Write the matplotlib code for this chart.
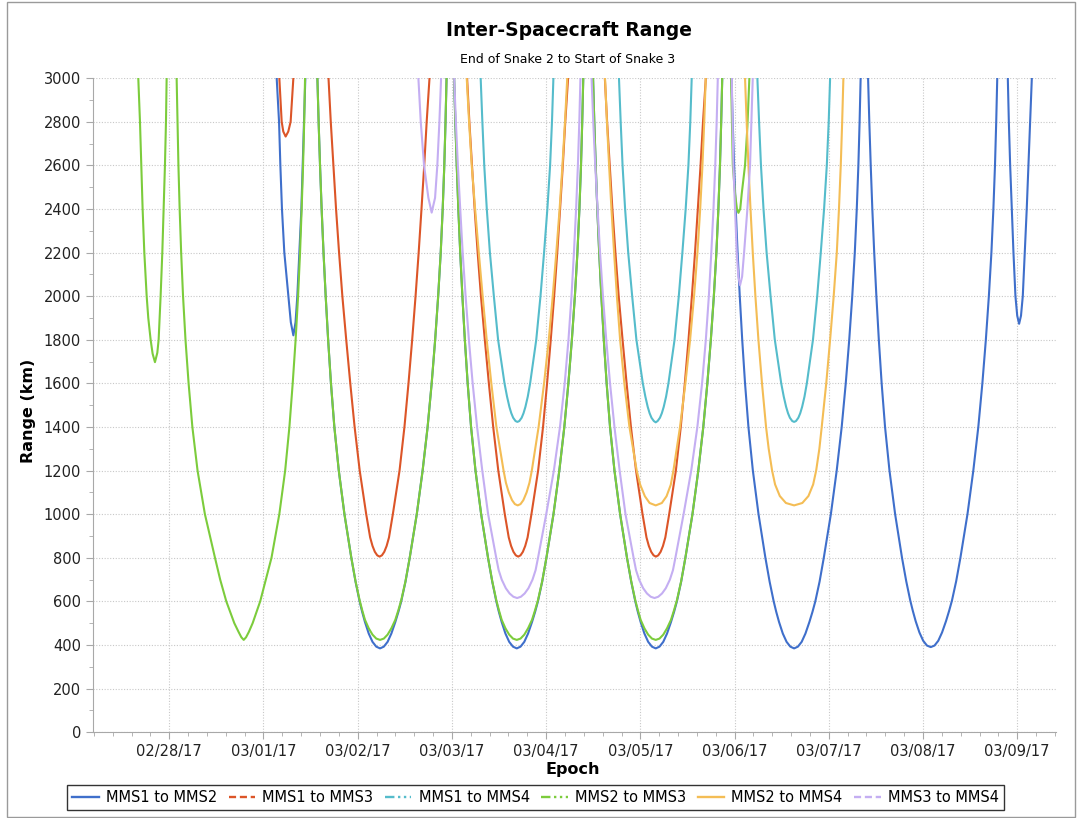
import numpy as np
import matplotlib
matplotlib.use('Agg')
import matplotlib.pyplot as plt
import matplotlib.dates as mdates
from matplotlib.ticker import MultipleLocator
from matplotlib.lines import Line2D
from matplotlib.patches import Rectangle
from datetime import datetime

# epoch in days since 02/28/17 00:00, range in km (values above 3000 run off the chart)
mms1_mms2_days = [0.90,
    1.140, 1.165, 1.179, 1.196, 1.221, 1.264, 1.290, 1.317, 1.340, 1.359, 1.380, 1.402, 1.416, 1.430, 1.444,
    1.500,
    1.572, 1.585, 1.600, 1.617, 1.637, 1.660, 1.686, 1.716, 1.752, 1.799, 1.859, 1.932, 1.977, 2.020, 2.047,
    2.077, 2.117, 2.157, 2.197, 2.237, 2.277, 2.317, 2.357, 2.399, 2.432, 2.462, 2.507, 2.552, 2.627, 2.689,
    2.742, 2.785, 2.822, 2.854, 2.881, 2.902, 2.919, 2.932, 2.943,
    2.980,
    3.023, 3.036, 3.051, 3.068, 3.088, 3.111, 3.137, 3.167, 3.203, 3.250, 3.310, 3.383, 3.428, 3.471, 3.498,
    3.528, 3.568, 3.608, 3.648, 3.688, 3.728, 3.768, 3.808, 3.850, 3.883, 3.913, 3.958, 4.003, 4.078, 4.140,
    4.193, 4.236, 4.273, 4.305, 4.332, 4.353, 4.370, 4.383, 4.394,
    4.440,
    4.498, 4.511, 4.526, 4.543, 4.563, 4.586, 4.612, 4.642, 4.678, 4.725, 4.785, 4.858, 4.903, 4.946, 4.973,
    5.003, 5.043, 5.083, 5.123, 5.163, 5.203, 5.243, 5.283, 5.325, 5.358, 5.388, 5.433, 5.478, 5.553, 5.615,
    5.668, 5.711, 5.748, 5.780, 5.807, 5.828, 5.845, 5.858, 5.869,
    5.920,
    5.967, 5.980, 5.995, 6.012, 6.032, 6.055, 6.081, 6.111, 6.147, 6.194, 6.254, 6.327, 6.372, 6.415, 6.442,
    6.472, 6.512, 6.552, 6.592, 6.632, 6.672, 6.712, 6.752, 6.794, 6.827, 6.857, 6.902, 6.947, 7.022, 7.084,
    7.137, 7.180, 7.217, 7.249, 7.276, 7.297, 7.314, 7.327, 7.338,
    7.380,
    7.417, 7.430, 7.445, 7.462, 7.482, 7.505, 7.531, 7.561, 7.597, 7.644, 7.704, 7.777, 7.822, 7.865, 7.892,
    7.922, 7.962, 8.002, 8.042, 8.082, 8.122, 8.162, 8.202, 8.244, 8.277, 8.307, 8.352, 8.397, 8.472, 8.534,
    8.587, 8.630, 8.667, 8.699, 8.726, 8.747, 8.764, 8.777, 8.788,
    8.850,
    8.900, 8.911, 8.925, 8.942, 8.960, 8.981, 9.000, 9.020, 9.040, 9.059, 9.080, 9.101, 9.119, 9.137, 9.155,
    9.250, 9.500]
mms1_mms2_km = [3500,
    3000, 2800, 2600, 2400, 2200, 2000, 1880, 1820, 1880, 2000, 2200, 2400, 2600, 2800, 3000,
    3500,
    3000, 2800, 2600, 2400, 2200, 2000, 1800, 1600, 1400, 1200, 1000, 800, 690, 600, 552,
    505, 452, 414, 392, 384, 392, 414, 452, 505, 552, 600, 690, 800, 1000, 1200,
    1400, 1600, 1800, 2000, 2200, 2400, 2600, 2800, 3000,
    3500,
    3000, 2800, 2600, 2400, 2200, 2000, 1800, 1600, 1400, 1200, 1000, 800, 690, 600, 552,
    505, 452, 414, 392, 384, 392, 414, 452, 505, 552, 600, 690, 800, 1000, 1200,
    1400, 1600, 1800, 2000, 2200, 2400, 2600, 2800, 3000,
    3500,
    3000, 2800, 2600, 2400, 2200, 2000, 1800, 1600, 1400, 1200, 1000, 800, 690, 600, 552,
    505, 452, 414, 392, 384, 392, 414, 452, 505, 552, 600, 690, 800, 1000, 1200,
    1400, 1600, 1800, 2000, 2200, 2400, 2600, 2800, 3000,
    3500,
    3000, 2800, 2600, 2400, 2200, 2000, 1800, 1600, 1400, 1200, 1000, 800, 690, 600, 552,
    505, 452, 414, 392, 384, 392, 414, 452, 505, 552, 600, 690, 800, 1000, 1200,
    1400, 1600, 1800, 2000, 2200, 2400, 2600, 2800, 3000,
    3500,
    3000, 2800, 2600, 2400, 2200, 2000, 1800, 1600, 1400, 1200, 1000, 800, 692, 603, 556,
    509, 457, 419, 397, 390, 397, 419, 457, 509, 556, 603, 692, 800, 1000, 1200,
    1400, 1600, 1800, 2000, 2200, 2400, 2600, 2800, 3000,
    3500,
    3000, 2800, 2600, 2400, 2200, 2000, 1910, 1873, 1910, 2000, 2200, 2400, 2600, 2800, 3000,
    3500, 3800]

mms1_mms3_days = [1.120,
    1.168, 1.193, 1.210, 1.235, 1.263, 1.288, 1.317,
    1.500,
    1.690, 1.714, 1.742, 1.770, 1.802, 1.837, 1.878, 1.921, 1.967, 2.021, 2.090, 2.132, 2.157, 2.182, 2.207,
    2.232, 2.257, 2.282, 2.307, 2.332, 2.373, 2.444, 2.496, 2.539, 2.578, 2.614, 2.647, 2.677, 2.706, 2.732,
    2.762,
    2.970,
    3.161, 3.185, 3.213, 3.241, 3.273, 3.308, 3.349, 3.392, 3.438, 3.492, 3.561, 3.603, 3.628, 3.653, 3.678,
    3.703, 3.728, 3.753, 3.778, 3.803, 3.844, 3.915, 3.967, 4.010, 4.049, 4.085, 4.118, 4.148, 4.177, 4.203,
    4.233,
    4.430,
    4.623, 4.647, 4.675, 4.703, 4.735, 4.770, 4.811, 4.854, 4.900, 4.954, 5.023, 5.065, 5.090, 5.115, 5.140,
    5.165, 5.190, 5.215, 5.240, 5.265, 5.306, 5.377, 5.429, 5.472, 5.511, 5.547, 5.580, 5.610, 5.639, 5.665,
    5.695,
    5.850]
mms1_mms3_km = [3500,
    3000, 2800, 2755, 2732, 2755, 2800, 3000,
    3500,
    3000, 2800, 2600, 2400, 2200, 2000, 1800, 1600, 1400, 1200, 1000, 893, 854, 827, 811,
    805, 811, 827, 854, 893, 1000, 1200, 1400, 1600, 1800, 2000, 2200, 2400, 2600, 2800,
    3000,
    3500,
    3000, 2800, 2600, 2400, 2200, 2000, 1800, 1600, 1400, 1200, 1000, 893, 854, 827, 811,
    805, 811, 827, 854, 893, 1000, 1200, 1400, 1600, 1800, 2000, 2200, 2400, 2600, 2800,
    3000,
    3500,
    3000, 2800, 2600, 2400, 2200, 2000, 1800, 1600, 1400, 1200, 1000, 893, 854, 827, 811,
    805, 811, 827, 854, 893, 1000, 1200, 1400, 1600, 1800, 2000, 2200, 2400, 2600, 2800,
    3000,
    3600]

mms1_mms4_days = [3.250,
    3.305, 3.323, 3.343, 3.370, 3.403, 3.445, 3.490, 3.558, 3.585, 3.610, 3.630, 3.650, 3.675, 3.695,
    3.715, 3.740, 3.760, 3.780, 3.805, 3.830, 3.895, 3.940, 3.978, 4.013, 4.042, 4.062, 4.077,
    4.420,
    4.773, 4.791, 4.811, 4.838, 4.871, 4.913, 4.958, 5.026, 5.053, 5.078, 5.098, 5.118, 5.143, 5.163,
    5.183, 5.208, 5.228, 5.248, 5.273, 5.298, 5.363, 5.408, 5.446, 5.481, 5.510, 5.530, 5.545,
    5.900,
    6.242, 6.260, 6.280, 6.307, 6.340, 6.382, 6.427, 6.495, 6.522, 6.547, 6.567, 6.587, 6.612, 6.632,
    6.652, 6.677, 6.697, 6.717, 6.742, 6.767, 6.832, 6.877, 6.915, 6.950, 6.979, 6.999, 7.014,
    7.100]
mms1_mms4_km = [3500,
    3000, 2800, 2600, 2400, 2200, 2000, 1800, 1600, 1539, 1492, 1463, 1442, 1427, 1423,
    1427, 1442, 1463, 1492, 1539, 1600, 1800, 2000, 2200, 2400, 2600, 2800, 3000,
    3500,
    3000, 2800, 2600, 2400, 2200, 2000, 1800, 1600, 1539, 1492, 1463, 1442, 1427, 1421,
    1427, 1442, 1463, 1492, 1539, 1600, 1800, 2000, 2200, 2400, 2600, 2800, 3000,
    3500,
    3000, 2800, 2600, 2400, 2200, 2000, 1800, 1600, 1539, 1492, 1463, 1442, 1427, 1423,
    1427, 1442, 1463, 1492, 1539, 1600, 1800, 2000, 2200, 2400, 2600, 2800, 3000,
    3500]

mms2_mms3_days = [-0.400,
    -0.329, -0.311, -0.297, -0.283, -0.265, -0.240, -0.223, -0.198, -0.177, -0.152, -0.127, -0.113, -0.092,
    -0.074, -0.060, -0.046, -0.035, -0.028,
    0.025,
    0.078, 0.087, 0.097, 0.110, 0.126, 0.146, 0.172, 0.205, 0.245, 0.300, 0.378, 0.485, 0.540, 0.605, 0.690,
    0.735, 0.765, 0.790, 0.815, 0.845, 0.885, 0.965, 1.025, 1.085, 1.168, 1.230, 1.275, 1.310, 1.341, 1.367,
    1.388, 1.405, 1.420, 1.432, 1.441,
    1.500,
    1.572, 1.585, 1.600, 1.617, 1.637, 1.660, 1.686, 1.716, 1.752, 1.799, 1.859, 1.932, 1.977, 2.020, 2.047,
    2.077, 2.117, 2.157, 2.197, 2.237, 2.277, 2.317, 2.357, 2.399, 2.432, 2.462, 2.507, 2.552, 2.627, 2.689,
    2.742, 2.785, 2.822, 2.854, 2.881, 2.902, 2.919, 2.932, 2.943,
    2.980,
    3.023, 3.036, 3.051, 3.068, 3.088, 3.111, 3.137, 3.167, 3.203, 3.250, 3.310, 3.383, 3.428, 3.471, 3.498,
    3.528, 3.568, 3.608, 3.648, 3.688, 3.728, 3.768, 3.808, 3.850, 3.883, 3.913, 3.958, 4.003, 4.078, 4.140,
    4.193, 4.236, 4.273, 4.305, 4.332, 4.353, 4.370, 4.383, 4.394,
    4.440,
    4.498, 4.511, 4.526, 4.543, 4.563, 4.586, 4.612, 4.642, 4.678, 4.725, 4.785, 4.858, 4.903, 4.946, 4.973,
    5.003, 5.043, 5.083, 5.123, 5.163, 5.203, 5.243, 5.283, 5.325, 5.358, 5.388, 5.433, 5.478, 5.553, 5.615,
    5.668, 5.711, 5.748, 5.780, 5.807, 5.828, 5.845, 5.858, 5.869,
    5.915,
    5.963, 5.981, 6.005, 6.025, 6.041, 6.060, 6.076, 6.111, 6.136, 6.157,
    6.300]
mms2_mms3_km = [3500,
    3000, 2800, 2600, 2400, 2200, 2000, 1900, 1800, 1736, 1697, 1740, 1800, 2000,
    2200, 2400, 2600, 2800, 3000,
    3500,
    3000, 2800, 2600, 2400, 2200, 2000, 1800, 1600, 1400, 1200, 1000, 800, 700, 600, 500,
    460, 435, 423, 435, 460, 500, 600, 700, 800, 1000, 1200, 1400, 1600, 1800, 2000,
    2200, 2400, 2600, 2800, 3000,
    3500,
    3000, 2800, 2600, 2400, 2200, 2000, 1800, 1600, 1400, 1200, 1000, 800, 692, 605, 560,
    515, 476, 447, 429, 423, 429, 447, 476, 515, 560, 605, 692, 800, 1000, 1200,
    1400, 1600, 1800, 2000, 2200, 2400, 2600, 2800, 3000,
    3500,
    3000, 2800, 2600, 2400, 2200, 2000, 1800, 1600, 1400, 1200, 1000, 800, 692, 605, 560,
    515, 476, 447, 429, 423, 429, 447, 476, 515, 560, 605, 692, 800, 1000, 1200,
    1400, 1600, 1800, 2000, 2200, 2400, 2600, 2800, 3000,
    3500,
    3000, 2800, 2600, 2400, 2200, 2000, 1800, 1600, 1400, 1200, 1000, 800, 692, 605, 560,
    515, 476, 447, 429, 423, 429, 447, 476, 515, 560, 605, 692, 800, 1000, 1200,
    1400, 1600, 1800, 2000, 2200, 2400, 2600, 2800, 3000,
    3500,
    3000, 2600, 2470, 2400, 2382, 2400, 2470, 2600, 2777, 3000,
    3600]

mms2_mms4_days = [3.100,
    3.157, 3.182, 3.210, 3.246, 3.285, 3.326, 3.369, 3.418, 3.472, 3.548, 3.573, 3.603, 3.638, 3.668, 3.698,
    3.728, 3.758, 3.793, 3.823, 3.848, 3.920, 3.978, 4.028, 4.070, 4.108, 4.143, 4.173, 4.200, 4.224,
    4.420,
    4.625, 4.645, 4.668, 4.693, 4.721, 4.751, 4.785, 4.830, 4.884, 4.961, 4.998, 5.048, 5.098, 5.163,
    5.228, 5.278, 5.323, 5.351, 5.421, 5.478, 5.528, 5.570, 5.606, 5.635, 5.659, 5.678, 5.694,
    5.900,
    6.111, 6.128, 6.147, 6.169, 6.193, 6.221, 6.253, 6.291, 6.334, 6.362, 6.398, 6.430, 6.480, 6.545, 6.632,
    6.719, 6.784, 6.834, 6.866, 6.900, 6.925, 6.973, 7.014, 7.052, 7.085, 7.108, 7.127, 7.142, 7.155,
    7.250]
mms2_mms4_km = [3500,
    3000, 2800, 2600, 2400, 2200, 2000, 1800, 1600, 1400, 1200, 1144, 1100, 1064, 1046, 1040,
    1046, 1064, 1100, 1144, 1200, 1400, 1600, 1800, 2000, 2200, 2400, 2600, 2800, 3000,
    3500,
    3000, 2800, 2600, 2400, 2200, 2000, 1800, 1600, 1400, 1200, 1135, 1082, 1051, 1040,
    1051, 1082, 1135, 1200, 1400, 1600, 1800, 2000, 2200, 2400, 2600, 2800, 3000,
    3500,
    3000, 2800, 2600, 2400, 2200, 2000, 1800, 1600, 1400, 1300, 1200, 1136, 1083, 1051, 1040,
    1051, 1083, 1136, 1200, 1300, 1400, 1600, 1800, 2000, 2200, 2400, 2600, 2800, 3000,
    3500]

mms3_mms4_days = [2.600,
    2.644, 2.669, 2.704, 2.750, 2.785, 2.821, 2.845, 2.867, 2.885,
    2.950,
    3.024, 3.042, 3.063, 3.088, 3.114, 3.145, 3.180, 3.220, 3.267, 3.322, 3.384, 3.470, 3.496, 3.529, 3.572,
    3.612, 3.652, 3.692, 3.732, 3.772, 3.812, 3.855, 3.888, 3.914, 4.001, 4.082, 4.147, 4.197, 4.237, 4.269,
    4.295, 4.318, 4.337, 4.352, 4.364,
    4.420,
    4.482, 4.500, 4.521, 4.546, 4.572, 4.603, 4.638, 4.678, 4.725, 4.780, 4.842, 4.928, 4.954, 4.987, 5.030,
    5.070, 5.110, 5.150, 5.190, 5.230, 5.270, 5.313, 5.346, 5.372, 5.459, 5.540, 5.605, 5.655, 5.695, 5.727,
    5.753, 5.776, 5.795, 5.810, 5.822,
    5.900,
    5.970, 5.987, 6.005, 6.023, 6.040, 6.058, 6.080, 6.101, 6.136, 6.164, 6.193,
    6.300]
mms3_mms4_km = [3500,
    3000, 2800, 2600, 2451, 2383, 2451, 2600, 2800, 3000,
    3500,
    3000, 2800, 2600, 2400, 2200, 2000, 1800, 1600, 1400, 1200, 1000, 800, 743, 699, 660,
    636, 621, 615, 621, 636, 660, 699, 743, 800, 1000, 1200, 1400, 1600, 1800, 2000,
    2200, 2400, 2600, 2800, 3000,
    3500,
    3000, 2800, 2600, 2400, 2200, 2000, 1800, 1600, 1400, 1200, 1000, 800, 743, 699, 660,
    636, 621, 615, 621, 636, 660, 699, 743, 800, 1000, 1200, 1400, 1600, 1800, 2000,
    2200, 2400, 2600, 2800, 3000,
    3500,
    3000, 2600, 2400, 2200, 2090, 2050, 2090, 2200, 2400, 2600, 3000,
    3500]

labels = ['MMS1 to MMS2', 'MMS1 to MMS3', 'MMS1 to MMS4', 'MMS2 to MMS3', 'MMS2 to MMS4', 'MMS3 to MMS4']
series = [(mms1_mms2_days, mms1_mms2_km), (mms1_mms3_days, mms1_mms3_km),
          (mms1_mms4_days, mms1_mms4_km), (mms2_mms3_days, mms2_mms3_km),
          (mms2_mms4_days, mms2_mms4_km), (mms3_mms4_days, mms3_mms4_km)]
colors = ['#3f6fcb', '#dc5528', '#55bccb', '#7ccc3c', '#f4bd55', '#c4aef2']
styles = ['-', (0, (3, 1.6)), (0, (4, 1.5, 1, 1.5, 1, 1.5)), (0, (4, 1.5, 1, 1.5, 1, 1.5)),
          '-', (0, (3, 1.6))]

start = mdates.date2num(datetime(2017, 2, 28))

fig = plt.figure(figsize=(10.81, 8.18), dpi=100)
ax = fig.add_axes([0.086, 0.105, 0.891, 0.7995])

for (days, km), c in zip(series, colors):
    ax.plot(start + np.array(days), km, color=c, lw=1.5, solid_joinstyle='round')

ax.set_ylim(0, 3000)
ax.set_xlim(start - 0.81, start + 9.413)
ax.yaxis.set_major_locator(MultipleLocator(200))
ax.yaxis.set_minor_locator(MultipleLocator(100))
ax.xaxis.set_major_locator(mdates.DayLocator())
ax.xaxis.set_major_formatter(mdates.DateFormatter('%m/%d/%y'))
ax.xaxis.set_minor_locator(MultipleLocator(0.2))

ax.set_axisbelow(True)
ax.grid(True, which='major', color='#c8c8c8', linestyle=(0, (1, 1.5)), linewidth=0.8)
for s in ['top', 'right']:
    ax.spines[s].set_visible(False)
for s in ['left', 'bottom']:
    ax.spines[s].set_color('#a8a8a8')
ax.tick_params(which='major', length=5, color='#a8a8a8', labelsize=10.5, labelcolor='#222222')
ax.tick_params(which='minor', length=3, color='#a8a8a8')

fig.text(0.526, 0.963, 'Inter-Spacecraft Range', ha='center', va='center', fontsize=13.5, fontweight='bold')
fig.text(0.525, 0.927, 'End of Snake 2 to Start of Snake 3', ha='center', va='center', fontsize=9)
fig.text(0.530, 0.0587, 'Epoch', ha='center', va='center', fontsize=11.5, fontweight='bold')
fig.text(0.026, 0.4976, 'Range (km)', ha='center', va='center', rotation=90, fontsize=11.5, fontweight='bold')

handles = [Line2D([], [], color=c, lw=1.7, linestyle=ls) for c, ls in zip(colors, styles)]
leg = fig.legend(handles, labels, loc='center', bbox_to_anchor=(0.4955, 0.025), ncol=6,
                 fontsize=10.5, frameon=True, fancybox=False, edgecolor='black',
                 handlelength=1.8, handletextpad=0.5, columnspacing=0.8, borderpad=0.35)
leg.get_frame().set_linewidth(1.0)

fig.patches.append(Rectangle((0.0065, 0.001), 0.988, 0.997, transform=fig.transFigure,
                             fill=False, edgecolor='#9a9a9a', lw=1.0))

fig.savefig('out.png', dpi=100)
